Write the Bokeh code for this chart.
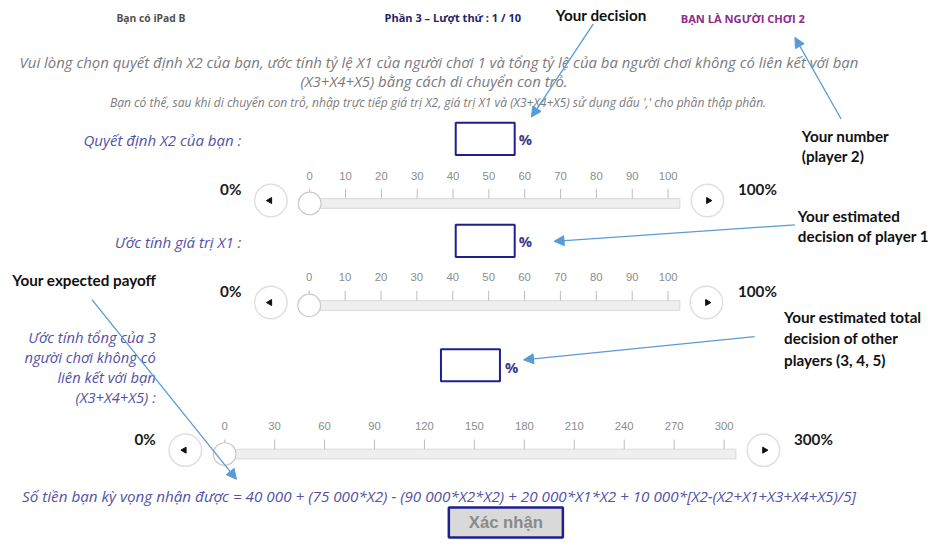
import math
from bokeh.plotting import figure
from bokeh.models import Range1d, Arrow, NormalHead
from bokeh.core.properties import value
from bokeh.embed import file_html
from bokeh.resources import INLINE

# ---------------- data / texts ----------------
header_left = "Bạn có iPad B"
header_mid = "Phần 3 – Lượt thứ : 1 / 10"
header_right = "BẠN LÀ NGƯỜI CHƠI 2"
instr_line1 = ("Vui lòng chọn quyết định X2 của bạn, ước tính tỷ lệ X1 của người chơi 1 "
               "và tổng tỷ lệ của ba người chơi không có liên kết với bạn")
instr_line2 = "(X3+X4+X5) bằng cách di chuyển con trỏ."
instr_line3 = ("Bạn có thể, sau khi di chuyển con trỏ, nhập trực tiếp giá trị X2, giá trị X1 "
               "và (X3+X4+X5) sử dụng dấu ',' cho phần thập phân.")
label_x2 = "Quyết định X2 của bạn :"
label_x1 = "Ước tính giá trị X1 :"
label_sum = ["Ước tính tổng của 3", "người chơi không có", "liên kết với bạn", "(X3+X4+X5) :"]
formula = ("Số tiền bạn kỳ vọng nhận được = 40 000 + (75 000*X2) - (90 000*X2*X2) + "
           "20 000*X1*X2 + 10 000*[X2-(X2+X1+X3+X4+X5)/5]")
button_text = "Xác nhận"

ticks_100 = [0, 10, 20, 30, 40, 50, 60, 70, 80, 90, 100]
ticks_300 = [0, 30, 60, 90, 120, 150, 180, 210, 240, 270, 300]
ends_100 = ["0%", "100%"]
ends_300 = ["0%", "300%"]
handle_x2 = [0]
handle_x1 = [0]
handle_sum = [0]

note_decision = "Your decision"
note_number = ["Your number", "(player 2)"]
note_x1 = ["Your estimated", "decision of player 1"]
note_total = ["Your estimated total", "decision of other", "players (3, 4, 5)"]
note_payoff = "Your expected payoff"

# ---------------- figure: the whole 951x555 reference mapped onto the plot ----------------
W, H = 935, 539
RW, RH = 951, 555
F = W / RW  # pixel scale factor
p = figure(width=W, height=H, x_range=Range1d(0, RW), y_range=Range1d(RH, 0),
           output_backend="svg", toolbar_location=None, x_axis_type=None, y_axis_type=None,
           min_border=0, min_border_left=0, min_border_right=0, min_border_top=0,
           min_border_bottom=0)
p.grid.visible = False
p.outline_line_color = None
p.background_fill_color = "white"
p.border_fill_color = "white"

UI = "Open Sans"
NOTE = "Lato"
SL = "Liberation Sans"
NAVY = "#1f1f8f"
LBL = "#5252a6"
GRAY = "#7b7b7b"
ARR = "#5b9bd5"


def fs(v):
    return f"{v * F:.2f}px"


def txt(x, y, t, size, color, font=UI, style="normal", align="left", baseline="middle"):
    p.text(x=[x], y=[y], text=[t], text_font=value(font), text_font_size=fs(size),
           text_color=color, text_font_style=style, text_align=align,
           text_baseline=baseline)


# header
txt(153, 18, header_left, 10.5, "#505050", style="bold", align="center")
txt(460, 18, header_mid, 11.2, "#1f256b", style="bold", align="center")
txt(755, 19, header_right, 11.3, "#8d2b8d", style="bold", align="center")

# instructions
txt(446, 63, instr_line1, 15.2, GRAY, style="italic", align="center")
txt(441, 83, instr_line2, 15.2, GRAY, style="italic", align="center")
txt(445, 105, instr_line3, 12.3, GRAY, style="italic", align="center")

# labels
txt(245, 144, label_x2, 15.3, LBL, style="italic", align="right")
txt(245, 249, label_x1, 15.3, LBL, style="italic", align="right")
for i, line in enumerate(label_sum):
    txt(158, 347 + i * 20.5, line, 15, LBL, style="italic", align="right")

# input boxes
boxes = [(463, 523, 126, 159, 534, 143), (463, 523, 231, 264, 534, 248),
         (448, 508, 359, 392, 520, 377)]
for l, r, t, b, px, py in boxes:
    p.quad(left=[l], right=[r], top=[t], bottom=[b], fill_color="white",
           line_color=NAVY, line_width=2)
    txt(px, py, "%", 15, "#3a3a8a", style="bold", align="center")


def slider(name, ticks, ends, handle, px0, px1, label_y, tick_y0, tick_y1,
           track_y, track_l, track_r, btn_l, btn_r, btn_y, end_l_x, end_r_x, end_y):
    v0, v1 = ticks[0], ticks[-1]
    k = (px1 - px0) / (v1 - v0)
    p.extra_x_ranges[name] = Range1d(v0 + (0 - px0) / k, v0 + (RW - px0) / k)
    # track
    p.quad(left=[track_l], right=[track_r], top=[track_y - 5], bottom=[track_y + 5],
           fill_color="#efefef", line_color="#d9d9d9", line_width=1)
    # ticks and labels
    p.segment(x0=ticks, x1=ticks, y0=[tick_y0] * len(ticks), y1=[tick_y1] * len(ticks),
              x_range_name=name, line_color="#bdbdbd", line_width=1)
    p.text(x=ticks, y=[label_y] * len(ticks), text=[str(t) for t in ticks],
           x_range_name=name, text_font=value(SL), text_font_size=fs(11.5),
           text_color="#8c8c8c", text_align="center", text_baseline="middle")
    # handle
    p.scatter(x=handle, y=[track_y], x_range_name=name, marker="circle", size=23 * F,
              fill_color="white", line_color="#c9c9c9", line_width=1.2)
    # buttons
    p.scatter(x=[btn_l, btn_r], y=[btn_y, btn_y], marker="circle", size=33 * F,
              fill_color="white", line_color="#e0e0e0", line_width=1.5)
    p.scatter(x=[btn_l - 1], y=[btn_y], marker="triangle", size=6, angle=math.pi / 2,
              fill_color="#111111", line_color="#111111")
    p.scatter(x=[btn_r + 1], y=[btn_y], marker="triangle", size=6, angle=-math.pi / 2,
              fill_color="#111111", line_color="#111111")
    # end labels
    txt(end_l_x, end_y, ends[0], 15.5, "#1a1a1a", font=NOTE, style="bold", align="right")
    txt(end_r_x, end_y, ends[1], 15.5, "#1a1a1a", font=NOTE, style="bold", align="left")


slider("s1", ticks_100, ends_100, handle_x2, 314.5, 679, 181, 194, 204,
       209, 303, 691, 275, 719, 206, 245, 750, 194)
slider("s2", ticks_100, ends_100, handle_x1, 314, 679, 285, 299, 309,
       314, 303, 691, 275, 718, 311, 245, 750, 299)
slider("s3", ticks_300, ends_300, handle_sum, 228, 736, 438, 452, 462,
       467, 217, 748, 188, 776, 463, 158, 807, 452)

# formula
txt(446, 510, formula, 15.5, LBL, style="italic", align="center")

# confirm button
p.quad(left=[456], right=[572], top=[522], bottom=[553], fill_color="#d9d9d9",
       line_color=NAVY, line_width=2.5)
txt(514, 538, button_text, 17, "#8a8a8a", font=SL, style="bold", align="center")

# annotations
NS = 15.5
txt(611, 15, note_decision, NS, "#111111", font=NOTE, style="bold", align="center")
for i, line in enumerate(note_number):
    txt(815, 140 + i * 20, line, NS, "#111111", font=NOTE, style="bold")
for i, line in enumerate(note_x1):
    txt(811, 222 + i * 21, line, NS, "#111111", font=NOTE, style="bold")
for i, line in enumerate(note_total):
    txt(797, 326 + i * 22, line, NS, "#111111", font=NOTE, style="bold")
txt(12, 288, note_payoff, NS, "#111111", font=NOTE, style="bold")

arrows = [(603, 24, 540, 120), (855, 122, 808, 38), (808, 231, 563, 248),
          (767, 346, 532, 370), (93, 308, 240, 493)]
for xs, ys, xe, ye in arrows:
    p.add_layout(Arrow(x_start=xs, y_start=ys, x_end=xe, y_end=ye,
                       end=NormalHead(size=10, fill_color=ARR, line_color=ARR),
                       line_color=ARR, line_width=1.3))

open("out.html", "w").write(file_html(p, INLINE))
